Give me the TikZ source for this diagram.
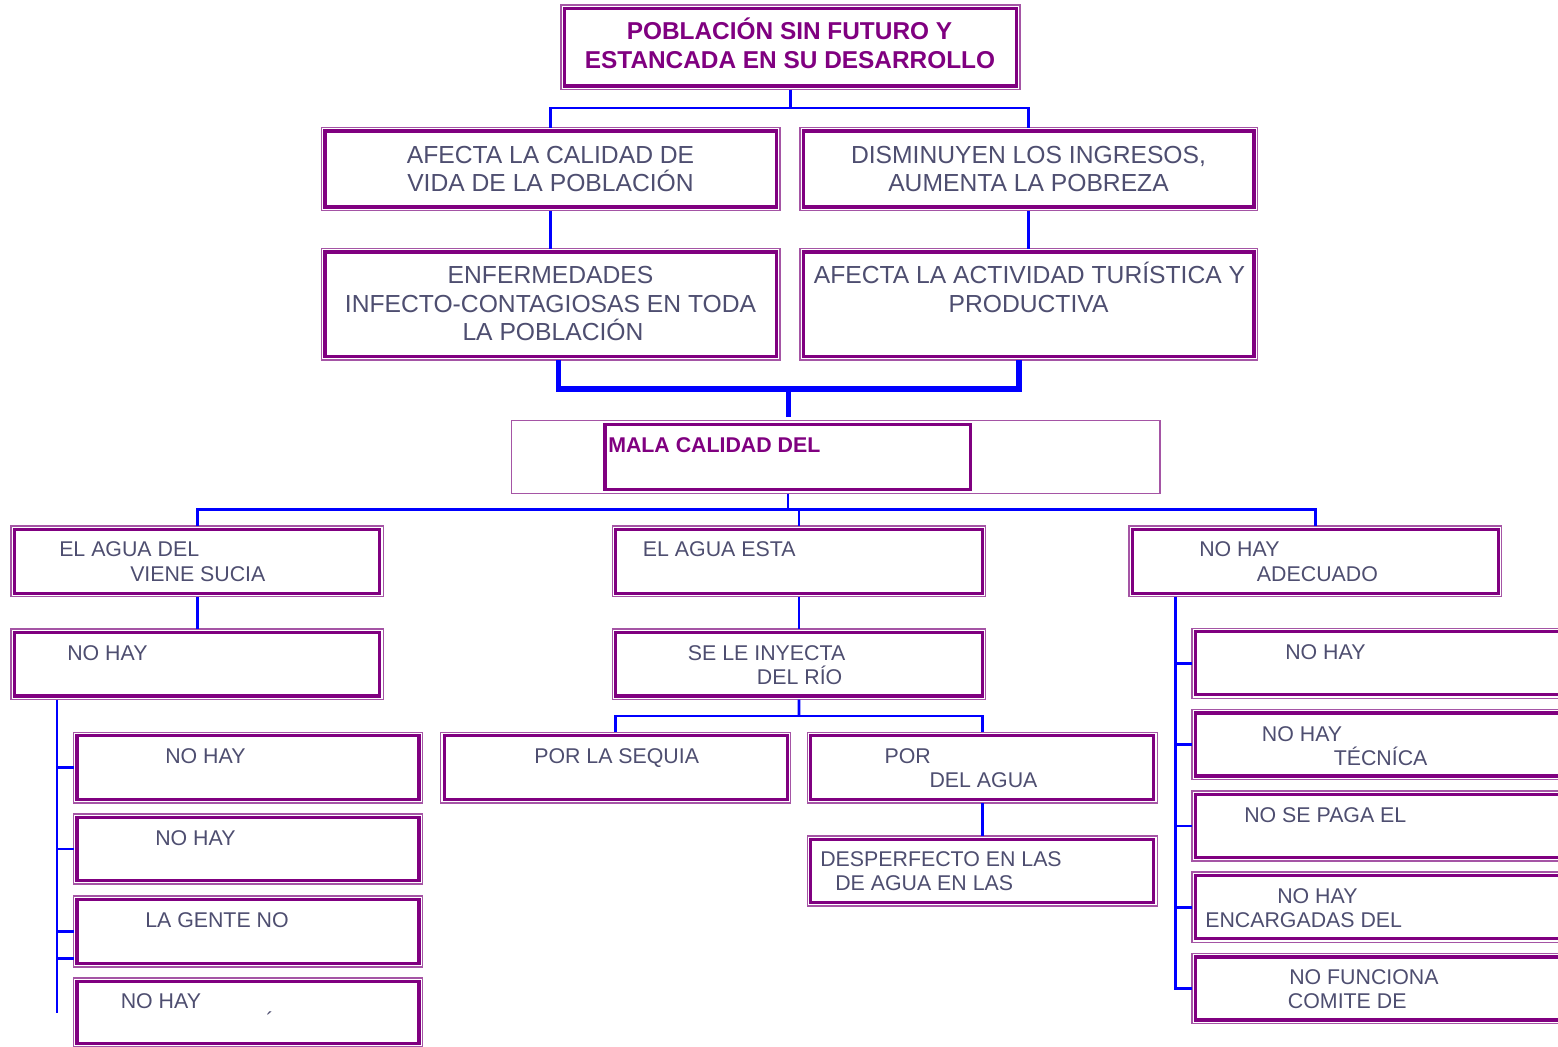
\documentclass[tikz,border=0pt]{standalone}
\usepackage{fontspec}
\setmainfont{Liberation Sans}
\usetikzlibrary{fit,calc}
\definecolor{bxin}{RGB}{128,0,128}
\definecolor{bxout}{RGB}{165,85,165}
\definecolor{txtg}{RGB}{78,78,112}
\definecolor{ln}{RGB}{0,0,255}
\tikzset{
  boxnode/.style={draw=bxout, line width=0.8pt, inner sep=0pt, outer sep=0pt},
  boxinner/.style={draw=bxin, line width=2.3pt},
  conn/.style={draw=ln, line width=2.1pt},
  thickconn/.style={draw=ln, line width=4.2pt},
  lbl/.style={anchor=base west, inner sep=0pt, text=txtg, font=\fontsize{16}{19}\selectfont},
  biglbl/.style={anchor=base, inner sep=0pt, text=txtg, font=\fontsize{18.5}{21}\selectfont},
  titlelbl/.style={anchor=base, inner sep=0pt, text=bxin, font=\bfseries\fontsize{18.3}{21}\selectfont},
  malalbl/.style={anchor=base west, inner sep=0pt, text=bxin, font=\bfseries\fontsize{16}{19}\selectfont},
}
\newcommand\mkbox[5]{%
  \node[boxnode, fit={(#2,#3) (#4,#5)}] (#1) {};
  \draw[boxinner] ([shift={(3.5,3.5)}]#1.north west) rectangle ([shift={(-3.5,-3.5)}]#1.south east);}
\begin{document}
\begin{tikzpicture}[x=0.75pt,y=-0.75pt]
\useasboundingbox (0,0) rectangle (1558,1046);
\clip (0,0) rectangle (1558,1046);
\fill[white] (0,0) rectangle (1558,1046);

% ---- boxes ----
\mkbox{top}{561}{5}{1020}{89.5}
\mkbox{b1}{321.5}{127.5}{780}{210.5}
\mkbox{b2}{800}{127.5}{1257.5}{210.5}
\mkbox{c1}{321.5}{248.5}{780}{360}
\mkbox{c2}{800}{248.5}{1257.5}{360}

\node[draw=bxout, line width=1pt, inner sep=0pt, fit={(511.7,420.7) (1160,493.3)}] (malaout) {};
\node[draw=bxin, line width=2.4pt, inner sep=0pt, fit={(605,424.5) (970.5,489.5)}] (mala) {};

\mkbox{d1}{11}{526}{383.3}{596.7}
\mkbox{d2}{612.3}{526}{985.7}{596.7}
\mkbox{d3}{1129}{526}{1501.7}{596.7}
\mkbox{e1}{11}{629}{383.3}{699.5}
\mkbox{e2}{612.3}{629}{985.7}{699.5}

\mkbox{f1}{73.5}{732.3}{422.5}{803}
\mkbox{f2}{73.5}{814}{422.5}{884}
\mkbox{f3}{73.5}{896}{422.5}{967}
\mkbox{f4}{73.5}{978}{422.5}{1047}

\mkbox{f5}{440.7}{732.3}{790.7}{803}
\mkbox{f6}{807.3}{732.3}{1157.3}{803}
\mkbox{g}{807.3}{836}{1157.3}{906}

\mkbox{r1}{1192}{628.3}{1580}{698.3}
\mkbox{r2}{1192}{709.5}{1580}{779.5}
\mkbox{r3}{1192}{791}{1580}{861}
\mkbox{r4}{1192}{872}{1580}{942.3}
\mkbox{r5}{1192}{953.5}{1580}{1023.5}

% ---- connectors ----
\coordinate (h1) at (790.5,108);
\draw[conn] (top.south) -- (h1);
\draw[conn] (b1.north) |- (h1) -| (b2.north);
\draw[conn] (b1.south) -- (c1.north);
\draw[conn] (b2.south) -- (c2.north);

\coordinate (k1) at (558.5,389);
\coordinate (k2) at (1019,389);
\coordinate (km) at (788.5,389);
\draw[thickconn, line join=miter] (c1.south -| k1) -- (k1) -- (k2) -- (c2.south -| k2);
\draw[thickconn, shorten >=2.5pt] (km) -- (malaout.north -| km);

\coordinate (m1) at (788,509.3);
\draw[conn] (malaout.south -| m1) -- (m1);
\draw[conn] (d1.north) |- (m1) -| (d3.north);
\draw[conn] (d2.north) -- (d2.north |- m1);

\draw[conn] (d1.south) -- (e1.north);
\coordinate (lv) at (57,1012.5);
\draw[conn] (e1.south -| lv) -- (lv);
\draw[conn] (f1.west) -- (f1.west -| lv);
\draw[conn] (f2.west) -- (f2.west -| lv);
\draw[conn] (f3.west) -- (f3.west -| lv);
\draw[conn] ([yshift=6.5pt]f3.south west) -- ([yshift=6.5pt]f3.south west -| lv);

\draw[conn] (d2.south) -- (e2.north);
\coordinate (m2) at (799,716);
\draw[conn] (e2.south) -- (m2);
\draw[conn] (f5.north) |- (m2) -| (f6.north);
\draw[conn] (f6.south) -- (g.north);

\coordinate (rv) at (1175.5,988.5);
\draw[conn] (d3.south -| rv) |- (r5.west);
\draw[conn] (r1.west) -- (r1.west -| rv);
\draw[conn] (r2.west) -- (r2.west -| rv);
\draw[conn] (r3.west) -- (r3.west -| rv);
\draw[conn] (r4.west) -- (r4.west -| rv);

% ---- texts ----
\node[titlelbl] (ttop1) at (789.5,39.5) {POBLACIÓN SIN FUTURO Y};
\node[titlelbl] (ttop2) at (790,68) {ESTANCADA EN SU DESARROLLO};

\node[biglbl] (tb1a) at (550.5,163.5) {AFECTA LA CALIDAD DE};
\node[biglbl] (tb1b) at (550.5,191.5) {VIDA DE LA POBLACIÓN};
\node[biglbl] (tb2a) at (1028.5,163.5) {DISMINUYEN LOS INGRESOS,};
\node[biglbl] (tb2b) at (1028.5,191.5) {AUMENTA LA POBREZA};

\node[biglbl] (tc1a) at (550.5,283.5) {ENFERMEDADES};
\node[biglbl] (tc1b) at (550.5,312) {INFECTO-CONTAGIOSAS EN TODA};
\node[biglbl] (tc1c) at (553,340.5) {LA POBLACIÓN};
\node[biglbl] (tc2a) at (1029.5,283.5) {AFECTA LA ACTIVIDAD TURÍSTICA Y};
\node[biglbl] (tc2b) at (1028.5,312) {PRODUCTIVA};

\node[malalbl] (tmala) at (608,452) {MALA CALIDAD DEL};

\node[lbl] (td1a) at (59,556) {EL AGUA DEL};
\node[lbl] (td1b) at (130,581) {VIENE SUCIA};
\node[lbl] (te1) at (67,660) {NO HAY};
\node[lbl] (tf1) at (165,763) {NO HAY};
\node[lbl] (tf2) at (155,845) {NO HAY};
\node[lbl] (tf3) at (145,927) {LA GENTE NO};
\node[lbl] (tf4) at (120.5,1008) {NO HAY};
\node[lbl] (tf4b) at (266,1027) {´};

\node[lbl] (td2) at (642.7,556.5) {EL AGUA ESTA};
\node[lbl] (te2a) at (687.7,660) {SE LE INYECTA};
\node[lbl] (te2b) at (756.7,684.3) {DEL RÍO};
\node[lbl] (tf5) at (534,763.5) {POR LA SEQUIA};
\node[lbl] (tf6a) at (884.3,763.3) {POR};
\node[lbl] (tf6b) at (929.3,787.3) {DEL AGUA};
\node[lbl] (tga) at (820,866) {DESPERFECTO EN LAS};
\node[lbl] (tgb) at (835,890.7) {DE AGUA EN LAS};

\node[lbl] (td3a) at (1199,556) {NO HAY};
\node[lbl] (td3b) at (1256.7,581) {ADECUADO};
\node[lbl] (tr1) at (1285,659) {NO HAY};
\node[lbl] (tr2a) at (1261.7,741) {NO HAY};
\node[lbl] (tr2b) at (1333.5,765) {TÉCNÍCA};
\node[lbl] (tr3) at (1244,822) {NO SE PAGA EL};
\node[lbl] (tr4a) at (1277,903) {NO HAY};
\node[lbl] (tr4b) at (1205,927) {ENCARGADAS DEL};
\node[lbl] (tr5a) at (1289,984) {NO FUNCIONA};
\node[lbl] (tr5b) at (1287.7,1008) {COMITE DE};
\end{tikzpicture}
\end{document}
